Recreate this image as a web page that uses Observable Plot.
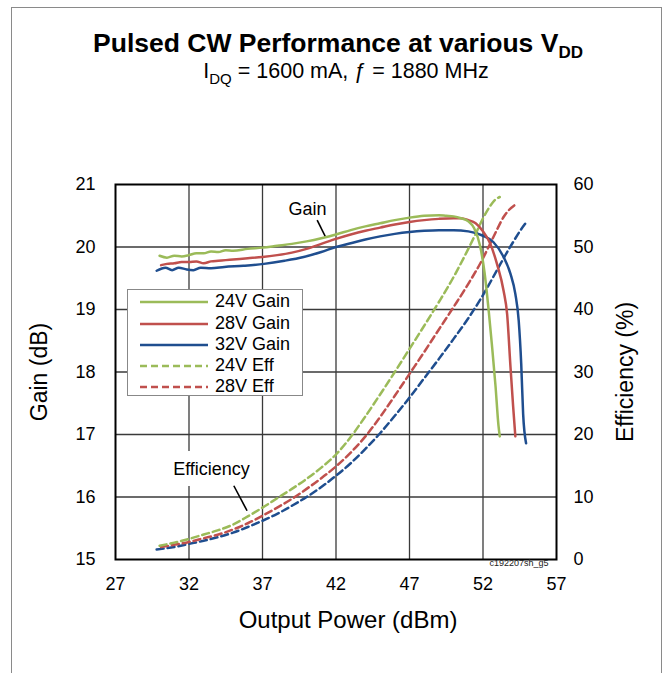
<!DOCTYPE html>
<html><head><meta charset="utf-8">
<script src="https://cdn.jsdelivr.net/npm/d3@7"></script>
<script src="https://cdn.jsdelivr.net/npm/@observablehq/plot@0.6"></script>
<style>
body{margin:0;background:#fff;font-family:"Liberation Sans",Arial,sans-serif;overflow:hidden;}
#wrap{position:relative;width:664px;height:673px;overflow:hidden;background:#fff;}
#border{position:absolute;left:11px;top:7px;width:649px;height:700px;border:1px solid #8a8a8a;border-bottom:none;pointer-events:none;z-index:5;}
#title{position:absolute;left:0;top:0;width:664px;height:100px;}
.t1{position:absolute;left:6px;width:664px;text-align:center;top:28px;font-weight:bold;font-size:26.5px;line-height:30px;}
.t1 .sub{font-size:17px;position:relative;top:6px;}
.t2{position:absolute;left:14px;width:664px;text-align:center;top:58px;font-size:21.5px;line-height:26px;}
.t2 .sub{font-size:15px;position:relative;top:6px;}
#chart{position:absolute;left:0;top:100px;}
#legend{position:absolute;left:127px;top:289px;width:174px;height:105px;border:1.5px solid #888;background:#fff;z-index:3;font-size:18px;}
.row{position:absolute;left:0;height:21px;line-height:21px;width:174px;}
.row svg{position:absolute;left:12px;top:8px;}
.row span{position:absolute;left:87px;top:0;}
</style></head>
<body>
<div id="wrap">
  <div id="title">
    <div class="t1">Pulsed CW Performance at various V<span class="sub">DD</span></div>
    <div class="t2">I<span class="sub">DQ</span> = 1600 mA, ƒ = 1880 MHz</div>
  </div>
  <div id="chart"></div>
  <div id="legend"></div>
  <div id="border"></div>
</div>
<script>
// ---- Data ----
const xTicks = [27, 32, 37, 42, 47, 52, 57];
const xGrid = [32, 37, 42, 47, 52];
const yTicks = [15, 16, 17, 18, 19, 20, 21];
const yGrid = [16, 17, 18, 19, 20];

const gain24x = [30.0,30.5,31,31.5,32,32.5,33,33.5,34,34.5,35,36,37,38,39,40,41,42,43,44,45,46,47,48,49,49.5,50,50.5,51,51.4,51.8,52.1,52.4,52.6,52.85,53.05,53.14];
const gain24  = [19.86,19.83,19.86,19.85,19.87,19.9,19.9,19.93,19.92,19.95,19.94,19.97,19.99,20.02,20.05,20.09,20.14,20.2,20.27,20.33,20.38,20.43,20.47,20.5,20.51,20.5,20.49,20.46,20.41,20.3,20.02,19.6,18.95,18.45,17.78,17.15,16.97];

const gain28x = [30.1,30.5,31,31.5,32,32.5,33,33.5,34,34.5,35,36,37,38,39,40,41,42,43,44,45,46,47,48,49,50,50.5,51,51.5,52,52.5,52.95,53.4,53.64,53.87,54.05,54.2];
const gain28  = [19.71,19.73,19.74,19.76,19.76,19.77,19.74,19.77,19.78,19.79,19.8,19.82,19.84,19.87,19.91,19.97,20.05,20.13,20.2,20.26,20.31,20.36,20.4,20.43,20.45,20.46,20.46,20.43,20.38,20.25,20.05,19.73,19.3,18.93,18.08,17.45,16.97];

const gain32x = [29.8,30.4,30.85,31.3,31.85,32.3,32.8,33.5,34.4,35.7,37.1,38.5,39.8,41,42,43,44,45,46,47,48,49,50,51,52,52.7,53.4,53.87,54.2,54.43,54.6,54.73,54.93];
const gain32  = [19.62,19.67,19.63,19.67,19.64,19.63,19.67,19.66,19.68,19.7,19.73,19.78,19.84,19.92,20.0,20.06,20.12,20.17,20.21,20.24,20.26,20.27,20.27,20.25,20.18,20.08,19.84,19.57,19.25,18.82,18.13,17.33,16.86];

const eff24x = [30,31,32,33,34,35,36,37,38,39,40,41,42,43,44,45,46,47,48,49,50,51,51.5,52,52.5,52.8,53.14];
const eff24  = [2.2,2.7,3.3,4.0,4.7,5.6,6.9,8.3,9.8,11.3,12.9,14.7,16.8,19.6,22.9,26.4,30.0,33.7,37.4,41.2,45.2,49.7,52.1,54.6,56.6,57.5,58.0];

const eff28x = [30.1,31,32,33,34,35,36,37,38,39,40,41,42,43,44,45,46,47,48,49,50,51,52,52.5,53,53.4,53.8,54.28];
const eff28  = [2.0,2.35,2.8,3.4,4.0,4.8,5.8,7.0,8.3,9.7,11.3,13.0,14.9,17.1,19.7,22.8,26.2,29.7,33.2,36.8,40.4,44.1,48.2,50.6,53.0,54.8,56.0,56.9];

const eff32x = [29.8,31,32,33,34,35,36,37,38,39,40,41,42,43,44,45,46,47,48,49,50,51,52,53,53.5,54,54.5,54.96];
const eff32  = [1.6,2.0,2.5,3.0,3.6,4.3,5.2,6.2,7.3,8.6,10.0,11.6,13.4,15.4,17.7,20.2,23.0,25.9,29.0,32.1,35.3,38.6,42.3,46.5,48.6,50.6,52.5,54.0];

const seriesNames = ["24V Gain", "28V Gain", "32V Gain", "24V Eff", "28V Eff"];
const seriesColors = ["#9bbb59", "#c0504d", "#1f4e8f", "#9bbb59", "#c0504d"];
const blue = "#1f4e8f";

const annotLabels = [{text: "Gain", x: 40.06, y: 20.6}];
const annotBoxed = [{text: "Efficiency", x: 33.53, y: 16.45}];
const annotLeaders = [
  {x1: 40.72, y1: 20.43, x2: 41.29, y2: 20.16},
  {x1: 35.05, y1: 16.18, x2: 35.95, y2: 15.78}
];
const watermark = ["c192207sh_g5"];

// Efficiency (0–60 %) is drawn against the gain scale (15–21 dB)
const effToGain = e => 15 + e / 10;
const rows = (xs, ys, f = v => v) => xs.map((x, i) => ({x, y: f(ys[i])}));

const FONT = '"Liberation Sans", Arial, sans-serif';
const lineOpts = (color, dashed) => ({x: "x", y: "y", stroke: color, strokeWidth: 2.5, curve: "monotone-x",
  strokeDasharray: dashed ? "7,4" : null});

const chart = Plot.plot({
  width: 664, height: 573,
  marginTop: 84, marginBottom: 114, marginLeft: 115, marginRight: 108,
  x: {domain: [27, 57]},
  y: {domain: [15, 21]},
  style: {fontFamily: FONT, fontSize: "18px", color: "black", background: "transparent"},
  marks: [
    Plot.ruleX(xGrid, {stroke: "#3a3a3a", strokeWidth: 1.3}),
    Plot.ruleY(yGrid, {stroke: "#3a3a3a", strokeWidth: 1.3}),
    Plot.axisX(xTicks, {tickSize: 0, tickPadding: 18, label: null, fontSize: 18, tickFormat: d => String(d)}),
    Plot.axisY(yTicks, {anchor: "left", tickSize: 0, tickPadding: 20, label: null, fontSize: 18, tickFormat: d => String(d)}),
    Plot.axisY(yTicks, {anchor: "right", tickSize: 0, tickPadding: 17, label: null, fontSize: 18,
      tickFormat: d => String(Math.round((d - 15) * 10))}),
    Plot.text(["Output Power (dBm)"], {frameAnchor: "bottom", dx: 12, dy: 68, fontSize: 24, fill: "black", textAnchor: "middle"}),
    Plot.text(["Gain (dB)"], {frameAnchor: "left", dx: -76, rotate: -90, fontSize: 23, fill: "black", textAnchor: "middle"}),
    Plot.text(["Efficiency (%)"], {frameAnchor: "right", dx: 69, rotate: -90, fontSize: 23, fill: "black", textAnchor: "middle"}),
    Plot.text(annotBoxed, {x: "x", y: "y", text: "text", fontSize: 18, fill: "black", stroke: "white", strokeWidth: 22}),
    Plot.text(annotLabels, {x: "x", y: "y", text: "text", fontSize: 18, fill: "black"}),
    Plot.link(annotLeaders, {x1: "x1", y1: "y1", x2: "x2", y2: "y2", stroke: "black", strokeWidth: 1.6}),
    Plot.line(rows(eff32x, eff32, effToGain), lineOpts(blue, true)),
    Plot.line(rows(eff28x, eff28, effToGain), lineOpts(seriesColors[4], true)),
    Plot.line(rows(eff24x, eff24, effToGain), lineOpts(seriesColors[3], true)),
    Plot.line(rows(gain32x, gain32), lineOpts(seriesColors[2], false)),
    Plot.line(rows(gain28x, gain28), lineOpts(seriesColors[1], false)),
    Plot.line(rows(gain24x, gain24), lineOpts(seriesColors[0], false)),
    Plot.frame({stroke: "black", strokeWidth: 2}),
    Plot.text(watermark, {frameAnchor: "bottom-right", dx: -8, dy: 6, fontSize: 9, textAnchor: "end", fill: "#222"})
  ]
});
document.getElementById("chart").appendChild(chart);

// Legend (HTML, above the SVG)
const legend = document.getElementById("legend");
const rowTops = [1, 22.5, 43.5, 64.5, 86];
seriesNames.forEach((name, i) => {
  const dashed = name.includes("Eff");
  const r = document.createElement("div");
  r.className = "row";
  r.style.top = rowTops[i] + "px";
  r.innerHTML = `<svg width="68" height="6"><line x1="0" y1="3" x2="68" y2="3" stroke="${seriesColors[i]}" stroke-width="2.5" ${dashed ? 'stroke-dasharray="7,4"' : ''}/></svg><span>${name}</span>`;
  legend.appendChild(r);
});
</script>
</body></html>
